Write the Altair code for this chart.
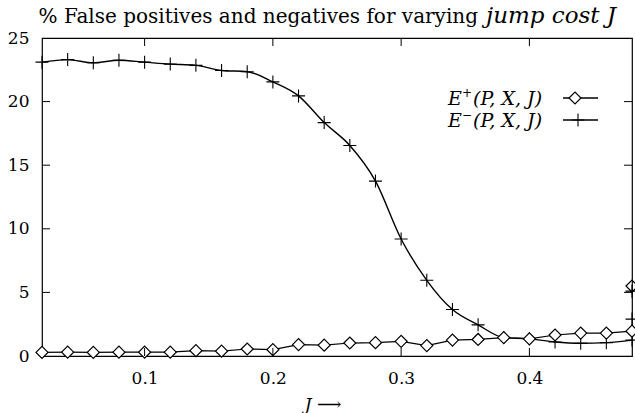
import altair as alt
import pandas as pd

# ---------------- data ----------------
J = [0.02, 0.04, 0.06, 0.08, 0.10, 0.12, 0.14, 0.16, 0.18, 0.20, 0.22, 0.24,
     0.26, 0.28, 0.30, 0.32, 0.34, 0.36, 0.38, 0.40, 0.42, 0.44, 0.46, 0.48]
E_PLUS = [0.28, 0.30, 0.28, 0.30, 0.30, 0.30, 0.42, 0.38, 0.55, 0.50, 0.90, 0.85,
          1.02, 1.05, 1.15, 0.82, 1.25, 1.30, 1.45, 1.35, 1.65, 1.80, 1.80, 1.95]
E_MINUS = [23.1, 23.3, 23.05, 23.25, 23.1, 22.95, 22.85, 22.45, 22.35, 21.55, 20.45, 18.35,
           16.55, 13.75, 9.2, 5.95, 3.65, 2.45, 1.45, 1.35, 1.1, 1.0, 1.05, 1.25]
# stray markers drawn on the right border
STRAY_J_PLUS = [0.48]
STRAY_PLUS = [5.5]
STRAY_J_MINUS = [0.48, 0.48]
STRAY_MINUS = [5.1, 2.9]

X_TICKS = [0.1, 0.2, 0.3, 0.4]
Y_TICKS = [0, 5, 10, 15, 20, 25]
TITLE_ROMAN = "% False positives and negatives for varying"
TITLE_ITALIC = "jump cost J"
LEG_E = "E"
LEG_SUP = ["+", "−"]
LEG_ARGS = "(P, X, J)"
X_TITLE = "J ⟶"

FONT = "DejaVu Serif"
W, H = 590, 318
PLUS_SHAPE = "M-1,0L1,0M0,-1L0,1"

xs = alt.Scale(domain=[0.02, 0.48], nice=False, zero=False)
ys = alt.Scale(domain=[0, 25], nice=False, zero=False)

plus_df = pd.DataFrame({"J": J, "v": E_PLUS})
minus_df = pd.DataFrame({"J": J, "v": E_MINUS})
stray_plus_df = pd.DataFrame({"J": STRAY_J_PLUS, "v": STRAY_PLUS})
stray_minus_df = pd.DataFrame({"J": STRAY_J_MINUS, "v": STRAY_MINUS})
xt_df = pd.DataFrame({"J": X_TICKS})
yt_df = pd.DataFrame({"v": Y_TICKS[1:-1]})
one = pd.DataFrame({"k": [0]})

x_axis = alt.Axis(values=X_TICKS, format=".1f", tickSize=0, domain=False, grid=False,
                  labelFont=FONT, labelFontSize=17, labelColor="black", labelPadding=14,
                  title=None)
y_axis = alt.Axis(values=Y_TICKS, tickSize=0, domain=False, grid=False,
                  labelFont=FONT, labelFontSize=17, labelColor="black", labelPadding=13,
                  title=None)

X = alt.X("J:Q", scale=xs, axis=x_axis)
Y = alt.Y("v:Q", scale=ys, axis=y_axis)
Xn = alt.X("J:Q", scale=xs)
Yn = alt.Y("v:Q", scale=ys)

minus_line = alt.Chart(minus_df).mark_line(color="black", strokeWidth=1.4,
                                           interpolate="monotone").encode(x=X, y=Y)
minus_pts = alt.Chart(minus_df).mark_point(shape=PLUS_SHAPE, size=169, color="black",
                                           strokeWidth=1.1, opacity=1).encode(x=Xn, y=Yn)
plus_line = alt.Chart(plus_df).mark_line(color="black", strokeWidth=1.2).encode(x=Xn, y=Yn)
plus_pts = alt.Chart(plus_df).mark_point(shape="diamond", size=144, color="black",
                                         fill="white", filled=False, strokeWidth=1.2,
                                         opacity=1).encode(x=Xn, y=Yn)
stray_p = alt.Chart(stray_plus_df).mark_point(shape="diamond", size=144, color="black",
                                              strokeWidth=1.2, opacity=1).encode(x=Xn, y=Yn)
stray_m = alt.Chart(stray_minus_df).mark_point(shape=PLUS_SHAPE, size=169, color="black",
                                               strokeWidth=1.1, opacity=1).encode(x=Xn, y=Yn)

# inward ticks on all four sides
tick_top = alt.Chart(xt_df).mark_rule(color="black", strokeWidth=1).encode(
    x=Xn, y=alt.value(0), y2=alt.value(8))
tick_bot = alt.Chart(xt_df).mark_rule(color="black", strokeWidth=1).encode(
    x=Xn, y=alt.value(H), y2=alt.value(H - 8))
tick_left = alt.Chart(yt_df).mark_rule(color="black", strokeWidth=1).encode(
    y=Yn, x=alt.value(0), x2=alt.value(8))
tick_right = alt.Chart(yt_df).mark_rule(color="black", strokeWidth=1).encode(
    y=Yn, x=alt.value(W), x2=alt.value(W - 8))


def txt(text, x, y, size, italic=False, align="left", baseline="alphabetic"):
    kw = dict(font=FONT, fontSize=size, align=align, baseline=baseline, color="black")
    if italic:
        kw["fontStyle"] = "italic"
    return alt.Chart(one).mark_text(**kw).encode(
        x=alt.value(x), y=alt.value(y), text=alt.value(text))


# title
title_r = txt(TITLE_ROMAN, 436, -15, 20, align="right")
title_i = txt(TITLE_ITALIC, 444, -15, 23, italic=True)

# x title
xtitle = txt(X_TITLE, 281, 372, 17, italic=True, align="center")

# legend (label left of sample)
legend_layers = []
for i, (sup, yv) in enumerate(zip(LEG_SUP, [60, 82])):
    legend_layers.append(txt(LEG_E, 406, yv + 7, 19, italic=True))
    legend_layers.append(txt(sup, 420, yv - 1, 12))
    legend_layers.append(txt(LEG_ARGS, 431, yv + 7, 19, italic=True))
    legend_layers.append(alt.Chart(one).mark_rule(color="black", strokeWidth=1.3).encode(
        x=alt.value(521), x2=alt.value(556), y=alt.value(yv)))
leg_p1 = alt.Chart(one).mark_point(shape="diamond", size=144, color="black", fill="white",
                                   filled=False, strokeWidth=1.2, opacity=1).encode(
    x=alt.value(533), y=alt.value(60))
leg_p2 = alt.Chart(one).mark_point(shape=PLUS_SHAPE, size=169, color="black",
                                   strokeWidth=1.1, opacity=1).encode(
    x=alt.value(536), y=alt.value(82))

chart = alt.layer(
    minus_line, plus_line, minus_pts, plus_pts, stray_p, stray_m,
    tick_top, tick_bot, tick_left, tick_right,
    title_r, title_i, xtitle,
    *legend_layers, leg_p1, leg_p2,
).properties(
    width=W, height=H,
    padding={"left": 42, "top": 38, "right": 3, "bottom": 57},
    autosize="none",
    background="white",
).configure_view(stroke="black", strokeWidth=1.2)

chart.save("out.html", embed_options={"renderer": "svg", "actions": False})
